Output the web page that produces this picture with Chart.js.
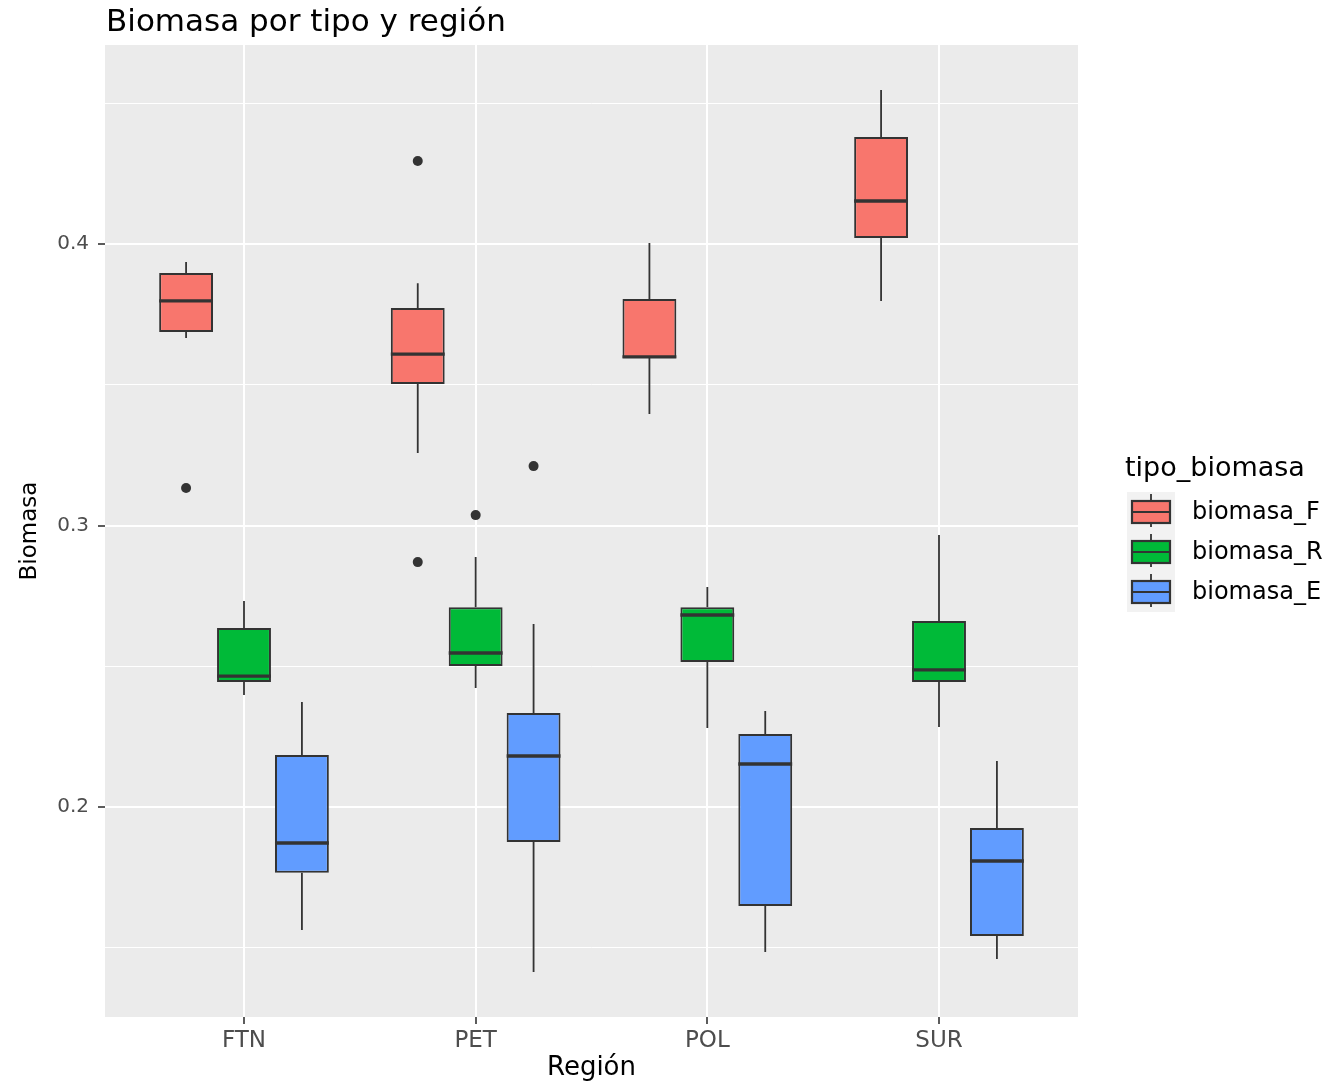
<!DOCTYPE html>
<html>
<head>
<meta charset="utf-8">
<script src="https://cdn.jsdelivr.net/npm/chart.js@4.4.1/dist/chart.umd.min.js"></script>
<style>
  body { margin: 0; background: #fff; }
</style>
</head>
<body>
<canvas id="grafico" width="1335" height="1084"></canvas>
<script>
// datos
const regiones = ['FTN', 'PET', 'POL', 'SUR'];
const tipos = ['biomasa_F', 'biomasa_R', 'biomasa_E'];
const colores = ['#F8766D', '#00BA38', '#619CFF'];

const minF = [0.3666, 0.3258, 0.3396, 0.3798];
const q1F = [0.3687, 0.3503, 0.3595, 0.4021];
const medF = [0.3798, 0.3609, 0.3599, 0.4153];
const q3F = [0.3897, 0.3773, 0.3805, 0.4380];
const maxF = [0.3936, 0.3861, 0.4004, 0.4547];
const outF = [[0.3133], [0.4295, 0.2870], [], []];

const minR = [0.2398, 0.2423, 0.2281, 0.2284];
const q1R = [0.2444, 0.2501, 0.2515, 0.2444];
const medR = [0.2465, 0.2547, 0.2682, 0.2487];
const q3R = [0.2636, 0.2710, 0.2710, 0.2661];
const maxR = [0.2732, 0.2888, 0.2782, 0.2966];
const outR = [[], [0.3037], [], []];

const minE = [0.1563, 0.1414, 0.1485, 0.1460];
const q1E = [0.1766, 0.1876, 0.1648, 0.1542];
const medE = [0.1872, 0.2181, 0.2153, 0.1808];
const q3E = [0.2185, 0.2334, 0.2259, 0.1925];
const maxE = [0.2373, 0.2650, 0.2341, 0.2163];
const outE = [[], [0.3211], [], []];

const yTicks = [0.2, 0.3, 0.4];
const yGrid = [0.15, 0.2, 0.25, 0.3, 0.35, 0.4, 0.45];

const series = [
  { min: minF, q1: q1F, med: medF, q3: q3F, max: maxF, out: outF },
  { min: minR, q1: q1R, med: medR, q3: q3R, max: maxR, out: outR },
  { min: minE, q1: q1E, med: medE, q3: q3E, max: maxE, out: outE }
];

const esMayor = v => yTicks.some(t => Math.abs(t - v) < 1e-6);
const fuente = '"DejaVu Sans", sans-serif';

// fondo gris del panel
const fondo = {
  id: 'fondo',
  beforeDraw(chart) {
    const a = chart.chartArea, c = chart.ctx;
    c.save();
    c.fillStyle = '#ebebeb';
    c.fillRect(a.left, a.top, a.right - a.left, a.bottom - a.top);
    c.restore();
  }
};

// bigotes, medianas y atipicos
const cajas = {
  id: 'cajas',
  beforeDatasetsDraw(chart) {
    const c = chart.ctx, y = chart.scales.y;
    c.save();
    c.strokeStyle = '#333333';
    c.lineWidth = 1.8;
    series.forEach((s, i) => {
      chart.getDatasetMeta(i).data.forEach((bar, j) => {
        c.beginPath();
        c.moveTo(bar.x, y.getPixelForValue(s.max[j]));
        c.lineTo(bar.x, y.getPixelForValue(s.q3[j]));
        c.moveTo(bar.x, y.getPixelForValue(s.q1[j]));
        c.lineTo(bar.x, y.getPixelForValue(s.min[j]));
        c.stroke();
      });
    });
    c.restore();
  },
  afterDatasetsDraw(chart) {
    const c = chart.ctx, y = chart.scales.y;
    c.save();
    series.forEach((s, i) => {
      chart.getDatasetMeta(i).data.forEach((bar, j) => {
        const py = y.getPixelForValue(s.med[j]);
        c.strokeStyle = '#333333';
        c.lineWidth = 3.4;
        c.beginPath();
        c.moveTo(bar.x - bar.width / 2, py);
        c.lineTo(bar.x + bar.width / 2, py);
        c.stroke();
        c.fillStyle = '#333333';
        s.out[j].forEach(v => {
          c.beginPath();
          c.arc(bar.x, y.getPixelForValue(v), 5, 0, Math.PI * 2);
          c.fill();
        });
      });
    });
    c.restore();
  },
  afterDraw(chart) {
    const c = chart.ctx;
    c.save();
    // titulo
    c.fillStyle = '#000';
    c.font = '31px ' + fuente;
    c.textBaseline = 'alphabetic';
    c.textAlign = 'left';
    c.fillText('Biomasa por tipo y región', 106, 31);
    // leyenda
    c.font = '27px ' + fuente;
    c.textBaseline = 'middle';
    c.fillText('tipo_biomasa', 1125, 469);
    c.fillStyle = '#f2f2f2';
    c.fillRect(1127, 492, 48, 120);
    tipos.forEach((t, i) => {
      const cy = 512 + i * 40;
      c.strokeStyle = '#333333';
      c.lineWidth = 1.8;
      c.beginPath();
      c.moveTo(1151, cy - 18); c.lineTo(1151, cy + 15);
      c.stroke();
      c.fillStyle = colores[i];
      c.fillRect(1132, cy - 11, 38, 22);
      c.lineWidth = 2.2;
      c.strokeRect(1132, cy - 11, 38, 22);
      c.beginPath();
      c.moveTo(1132, cy); c.lineTo(1170, cy);
      c.stroke();
      c.fillStyle = '#000';
      c.font = '24px ' + fuente;
      c.fillText(t, 1192, cy + 1);
    });
    c.restore();
  }
};

const ctx = document.getElementById('grafico');

new Chart(ctx, {
  type: 'bar',
  data: {
    datasets: tipos.map((t, i) => ({
      label: t,
      data: regiones.map((r, j) => ({ x: j, y: [series[i].q1[j], series[i].q3[j]] })),
      backgroundColor: colores[i],
      borderColor: '#333333',
      borderWidth: 2,
      borderSkipped: false
    }))
  },
  options: {
    responsive: false,
    animation: false,
    categoryPercentage: 0.75,
    barPercentage: 0.93,
    layout: { padding: { top: 45, right: 257, left: 0, bottom: 0 } },
    plugins: {
      legend: { display: false },
      tooltip: { enabled: false }
    },
    scales: {
      x: {
        type: 'linear',
        min: -0.6,
        max: 3.6,
        offset: false,
        afterBuildTicks: s => { s.ticks = regiones.map((r, j) => ({ value: j })); },
        afterFit: s => { s.height = 67; },
        border: { display: false },
        grid: { offset: false, color: '#ffffff', lineWidth: 2, tickColor: '#333333', tickLength: 7, tickWidth: 1.6 },
        ticks: {
          color: '#4d4d4d',
          font: { family: fuente, size: 23 },
          padding: 3,
          callback: v => regiones[v]
        },
        title: {
          display: true,
          text: 'Región',
          color: '#000',
          font: { family: fuente, size: 26 },
          padding: { top: 0, bottom: 0 }
        }
      },
      y: {
        min: 0.1254,
        max: 0.4707,
        afterBuildTicks: s => { s.ticks = yGrid.map(v => ({ value: v })); },
        afterFit: s => { s.width = 105; },
        border: { display: false },
        grid: {
          color: '#ffffff',
          lineWidth: c => esMayor(c.tick.value) ? 2 : 1,
          tickColor: c => esMayor(c.tick.value) ? '#333333' : 'rgba(0,0,0,0)',
          tickLength: 7,
          tickWidth: 1.6
        },
        ticks: {
          color: '#4d4d4d',
          font: { family: fuente, size: 20 },
          padding: 9,
          callback: v => esMayor(v) ? v.toFixed(1) : ''
        },
        title: {
          display: true,
          text: 'Biomasa',
          color: '#000',
          font: { family: fuente, size: 23 },
          padding: { top: 16, bottom: 0 }
        }
      }
    }
  },
  plugins: [fondo, cajas]
});
</script>
</body>
</html>
